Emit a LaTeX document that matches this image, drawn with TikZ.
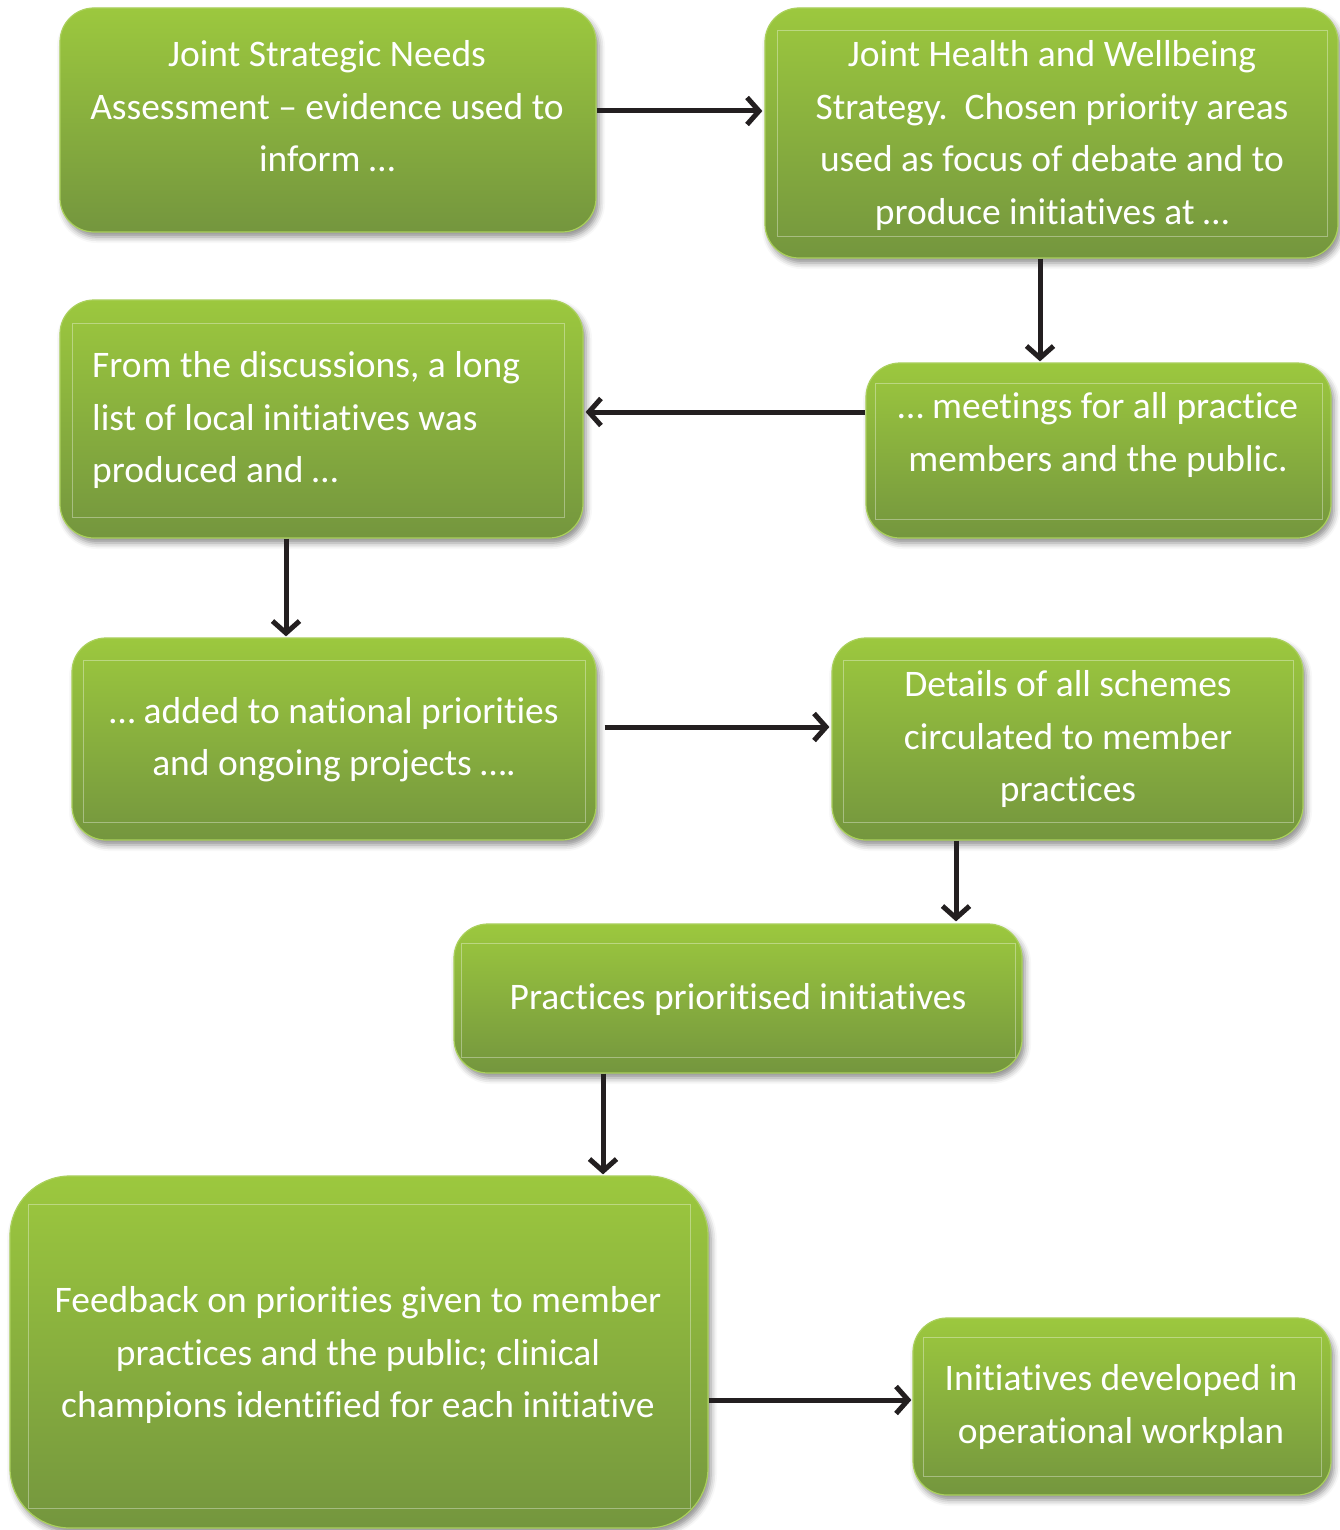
\documentclass[tikz,border=0pt]{standalone}
\usepackage{fontspec}
\setmainfont[Ligatures={TeX,NoCommon,NoContextual,NoRare}]{Carlito}
\usetikzlibrary{arrows.meta,shadows.blur,calc}
\definecolor{gtop}{RGB}{156,200,62}
\definecolor{gbot}{RGB}{116,150,62}
\definecolor{gedge}{RGB}{170,208,92}
\definecolor{arrowc}{RGB}{35,31,32}
\tikzset{
  box/.style={rectangle, rounded corners=34pt, top color=gtop, bottom color=gbot,
    draw=gedge, line width=1.2pt, inner sep=0pt,
    blur shadow={shadow xshift=3pt, shadow yshift=-5pt, shadow blur radius=6pt, shadow opacity=45}},
  bigbox/.style={box, rounded corners=60pt},
  txt/.style={text=white, align=center, inner sep=0pt, font=\fontsize{37.5}{52.5}\selectfont},
  inner/.style={draw=white, draw opacity=0.35, line width=0.8pt},
  arr/.style={draw=arrowc, line width=5pt, line cap=butt, -{Straight Barb[length=12pt,width=27pt]}},
}
\begin{document}
\begin{tikzpicture}[x=1pt,y=-1pt]
\useasboundingbox (0,0) rectangle (1340,1530);
% boxes
\node[box, minimum width=536pt, minimum height=224pt] (b1) at (328,120) {};
\node[box, minimum width=573pt, minimum height=250pt] (b2) at (1051.5,133) {};
\node[box, minimum width=523pt, minimum height=238pt] (b3) at (321.5,419) {};
\node[box, minimum width=465pt, minimum height=175pt] (b4) at (1098.5,450.5) {};
\node[box, minimum width=524pt, minimum height=202pt] (b5) at (334,739) {};
\node[box, minimum width=471pt, minimum height=202pt] (b6) at (1067.5,739) {};
\node[box, minimum width=568pt, minimum height=149pt] (b7) at (738,998.5) {};
\node[bigbox, minimum width=698pt, minimum height=352pt] (b8) at (359,1352) {};
\node[box, minimum width=418pt, minimum height=177pt] (b9) at (1122,1406.5) {};
% faint inner frames
\draw[inner] (777,30) rectangle (1327,236);
\draw[inner] (72,323) rectangle (564,517);
\draw[inner] (875,383) rectangle (1322,519);
\draw[inner] (83,660) rectangle (585,822);
\draw[inner] (843,660) rectangle (1293,822);
\draw[inner] (461,943) rectangle (1015,1057);
\draw[inner] (28,1204) rectangle (690,1508);
\draw[inner] (923,1337) rectangle (1321,1476);
% texts
\node[txt] (t1) at (327,106.5) {Joint Strategic Needs\\Assessment – evidence used to\\inform …};
\node[txt] (t2) at (1052,135.5) {Joint Health and Wellbeing\\Strategy.\ \ Chosen priority areas\\used as focus of debate and to\\produce initiatives at …};
\node[txt, align=left, anchor=west] (t3) at (92,420) {From the discussions, a long\\list of local initiatives was\\produced and …};
\node[txt] (t4) at (1098,435) {… meetings for all practice\\members and the public.};
\node[txt] (t5) at (334,739.5) {… added to national priorities\\and ongoing projects ….};
\node[txt] (t6) at (1068,739) {Details of all schemes\\circulated to member\\practices};
\node[txt] (t7) at (738,999) {Practices prioritised initiatives};
\node[txt] (t8) at (358,1355) {Feedback on priorities given to member\\practices and the public; clinical\\champions identified for each initiative};
\node[txt] (t9) at (1121,1407) {Initiatives developed in\\operational workplan};
% connectors
\draw[arr] (b1.east |- 0,111) -- ([xshift=-2pt]b2.west |- 0,111);
\draw[arr] (b2.south -| 1040,0) -- ([yshift=1pt]b4.north -| 1040,0);
\draw[arr] (b4.west |- 0,412) -- ([xshift=2pt]b3.east |- 0,412);
\draw[arr] (b3.south -| 286,0) -- ([yshift=1pt]b5.north -| 286,0);
\draw[arr] ([xshift=8pt]b5.east |- 0,727) -- ([xshift=-2pt]b6.west |- 0,727);
\draw[arr] (b6.south -| 956,0) -- ([yshift=2pt]b7.north -| 956,0);
\draw[arr] (b7.south -| 603,0) -- ([yshift=1pt]b8.north -| 603,0);
\draw[arr] (b8.east |- 0,1400) -- ([xshift=-1pt]b9.west |- 0,1400);
\end{tikzpicture}
\end{document}
